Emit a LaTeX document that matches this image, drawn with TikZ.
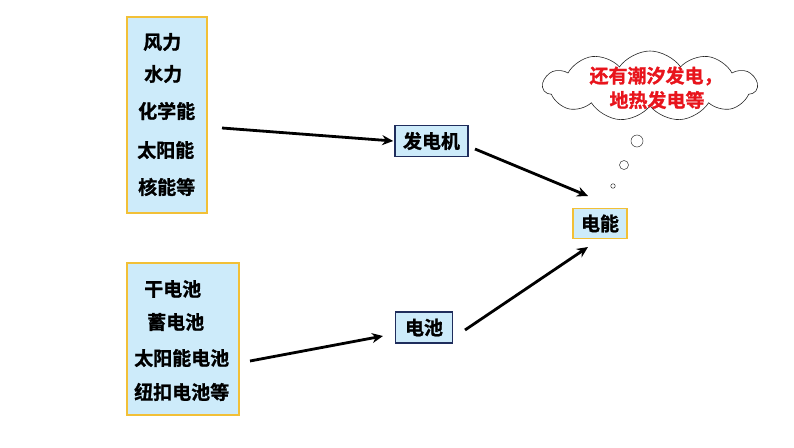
\documentclass[tikz,border=0pt]{standalone}
\usepackage{fontspec}
\usetikzlibrary{arrows.meta,shapes.symbols}
\newfontfamily\cjk{Noto Sans CJK SC Bold}[FakeBold=1.2]
\definecolor{boxfill}{HTML}{CDEBFA}
\definecolor{goldline}{HTML}{F2C037}
\definecolor{navyline}{HTML}{1F2D5C}
\definecolor{cloudred}{HTML}{E8141C}
\tikzset{
  srcbox/.style={draw=goldline,line width=1.6pt,fill=boxfill,inner sep=0pt},
  midbox/.style={draw=navyline,line width=1.6pt,fill=boxfill,minimum height=31pt,inner sep=2pt,font=\cjk\fontsize{19}{19}\selectfont},
  endbox/.style={draw=goldline,line width=1.6pt,fill=boxfill,minimum height=30pt,inner sep=2pt,font=\cjk\fontsize{19}{19}\selectfont},
  itemtext/.style={anchor=west,inner sep=0pt,font=\cjk\fontsize{19}{19}\selectfont},
  flow/.style={line width=2.8pt,-{Stealth[length=11pt,width=10pt]}},
  bubble/.style={draw=black!80,line width=0.5pt,fill=white,circle,inner sep=0pt},
  thought/.style={cloud,cloud puffs=11,cloud puff arc=110,aspect=3,draw=black!85,line width=0.6pt,fill=white,minimum width=214pt,minimum height=70pt,inner sep=0pt},
  redtext/.style={text=cloudred,inner sep=0pt,font=\cjk\fontsize{19}{19}\selectfont}
}
\begin{document}
\begin{tikzpicture}[x=1pt,y=-1pt]
\useasboundingbox (0,0) rectangle (794,447);
% source boxes
\node[srcbox,minimum width=80pt,minimum height=196pt] (box1) at (167,115) {};
\node[srcbox,minimum width=112pt,minimum height=152pt] (box2) at (183,339) {};
\node[itemtext] (t11) at (143,42) {风力};
\node[itemtext] (t12) at (144,74) {水力};
\node[itemtext] (t13) at (138,111) {化学能};
\node[itemtext] (t14) at (137,150) {太阳能};
\node[itemtext] (t15) at (138,187) {核能等};
\node[itemtext] (t21) at (144,289) {干电池};
\node[itemtext] (t22) at (147,322) {蓄电池};
\node[itemtext] (t23) at (134,358) {太阳能电池};
\node[itemtext] (t24) at (134,392) {纽扣电池等};
% middle boxes
\node[midbox,minimum width=73pt] (gen) at (431.5,141) {发电机};
\node[midbox,minimum width=57pt] (bat) at (424,327.5) {电池};
\node[endbox,minimum width=54pt] (elec) at (600,223.5) {电能};
% cloud
\node[thought] (cl) at (650,86) {};
\node[redtext] (c1) at (656,76) {还有潮汐发电，};
\node[redtext] (c2) at (657,100) {地热发电等};
\node[bubble,minimum size=12pt] (b1) at (637,141) {};
\node[bubble,minimum size=9pt] (b2) at (624,165) {};
\node[bubble,minimum size=4.5pt] (b3) at (613,186) {};
% connectors
\coordinate (s1) at (222,128);
\coordinate (s2) at (475,149);
\coordinate (e2) at (588,196);
\coordinate (s3) at (465,330);
\coordinate (e3) at (588,247);
\coordinate (s4) at (250,361);
\coordinate (e4) at (383,336);
\draw[flow] (s1) -- ([xshift=-1pt]gen.west);
\draw[flow] (s2) -- (e2);
\draw[flow] (s3) -- (e3);
\draw[flow] (s4) -- (e4);
\end{tikzpicture}
\end{document}
